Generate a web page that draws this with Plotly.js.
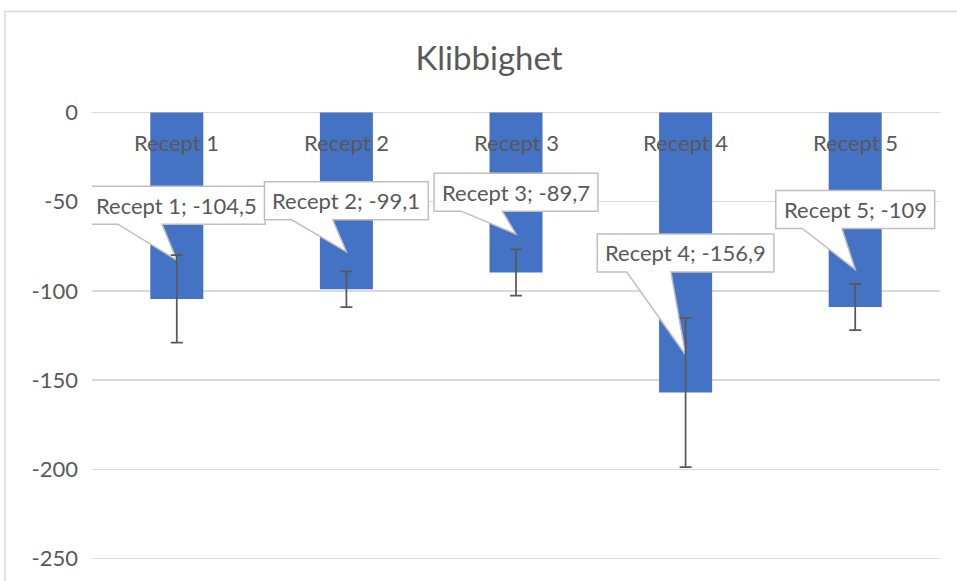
<!DOCTYPE html>
<html><head><meta charset="utf-8">
<script src="https://cdn.plot.ly/plotly-3.0.1.min.js"></script>
<style>html,body{margin:0;padding:0;background:#fff}#chart{width:957px;height:581px}</style>
</head><body><div id="chart"></div>
<script>
// ---- data ----
const categories = ['Recept 1', 'Recept 2', 'Recept 3', 'Recept 4', 'Recept 5'];
const values = [-104.5, -99.1, -89.7, -156.9, -109];
const errors = [24.5, 10, 13, 41.8, 13];
const yTickVals = [0, -50, -100, -150, -200, -250];
const yTickText = ['0', '-50', '-100', '-150', '-200', '-250'];
const chartTitle = 'Klibbighet';

// ---- label placement (callout tip value along the bar, gap in px) ----
const calloutTip = [-82.8, -78.1, -68.2, -135.9, -88];
const calloutGap = [36, 32, 23, 83, 41];

// ---- styles ----
const FONT = 'Lato, "Open Sans", sans-serif';
const TXT = '#595959';
const labelSize = 22;
const boxH = 38;
const boxPad = 16;
const yRange = [-250.8, 0.8];

function fmt(v) { return String(v).replace('.', ','); }
const labels = categories.map((c, i) => c + '; ' + fmt(values[i]));

const ctx = document.createElement('canvas').getContext('2d');
ctx.font = labelSize + 'px Lato';

const shapes = [{
  type: 'rect', xref: 'paper', yref: 'paper',
  x0: -0.1026, x1: 1.3, y0: -0.3, y1: 1.2215,
  line: {color: '#d9d9d9', width: 1.5}, fillcolor: 'rgba(0,0,0,0)', layer: 'below'
}];
const annotations = [];

categories.forEach((c, i) => {
  const w = ctx.measureText(labels[i]).width + boxPad;
  const xl = -w / 2, xr = w / 2;
  const yb = calloutGap[i], yt = calloutGap[i] + boxH;
  const xa = xl + w / 6, xb = xl + 5 * w / 12;
  const path = `M${xl},${yb} L${xa},${yb} L0,0 L${xb},${yb} L${xr},${yb} L${xr},${yt} L${xl},${yt} Z`;
  shapes.push({
    type: 'path', xref: 'x2', yref: 'y2', xsizemode: 'pixel', ysizemode: 'pixel',
    xanchor: i, yanchor: calloutTip[i], path: path,
    fillcolor: '#ffffff', line: {color: '#bfbfbf', width: 1.5}, layer: 'below'
  });
  annotations.push({
    xref: 'x', yref: 'y', x: c, y: calloutTip[i], yshift: calloutGap[i] + boxH / 2,
    text: labels[i], showarrow: false, xanchor: 'center', yanchor: 'middle',
    font: {family: FONT, size: labelSize, color: TXT}
  });
  annotations.push({
    xref: 'x', yref: 'y', x: c, y: 0, yshift: -30,
    text: c, showarrow: false, xanchor: 'center', yanchor: 'middle',
    font: {family: FONT, size: labelSize, color: TXT}
  });
});

const traces = [
  {
    type: 'bar', x: categories, y: values, width: 0.3125,
    marker: {color: '#4472c4'}, xaxis: 'x', yaxis: 'y', hoverinfo: 'skip'
  },
  {
    type: 'scatter', mode: 'markers', x: categories, y: values,
    marker: {size: 1, opacity: 0}, xaxis: 'x2', yaxis: 'y2', hoverinfo: 'skip',
    error_y: {type: 'data', array: errors, visible: true, color: '#595959', thickness: 1.75, width: 6}
  }
];

const layout = {
  width: 957, height: 581,
  margin: {l: 92, r: 17, t: 111, b: 21},
  paper_bgcolor: '#ffffff', plot_bgcolor: 'rgba(0,0,0,0)',
  showlegend: false,
  title: {
    text: chartTitle, xref: 'container', yref: 'container', x: 0.511, y: 0.9,
    xanchor: 'center', yanchor: 'middle',
    font: {family: FONT, size: 33, color: TXT}
  },
  xaxis: {
    type: 'category', range: [-0.5, 4.5], showticklabels: false, showgrid: false,
    zeroline: false, showline: false, ticks: '', fixedrange: true
  },
  yaxis: {
    range: yRange, tickvals: yTickVals, ticktext: yTickText,
    showgrid: true, gridcolor: '#d9d9d9', gridwidth: 1.5, zeroline: false,
    showline: false, ticks: '', ticklabelstandoff: 13,
    tickfont: {family: FONT, size: labelSize, color: TXT}, fixedrange: true
  },
  xaxis2: {
    type: 'category', range: [-0.5, 4.5], anchor: 'y2', domain: [0, 1],
    visible: false, showgrid: false, zeroline: false
  },
  yaxis2: {
    range: yRange, anchor: 'x2', domain: [0, 1],
    visible: false, showgrid: false, zeroline: false
  },
  shapes: shapes,
  annotations: annotations
};

Plotly.newPlot('chart', traces, layout, {displayModeBar: false, staticPlot: true});
</script>
</body></html>
